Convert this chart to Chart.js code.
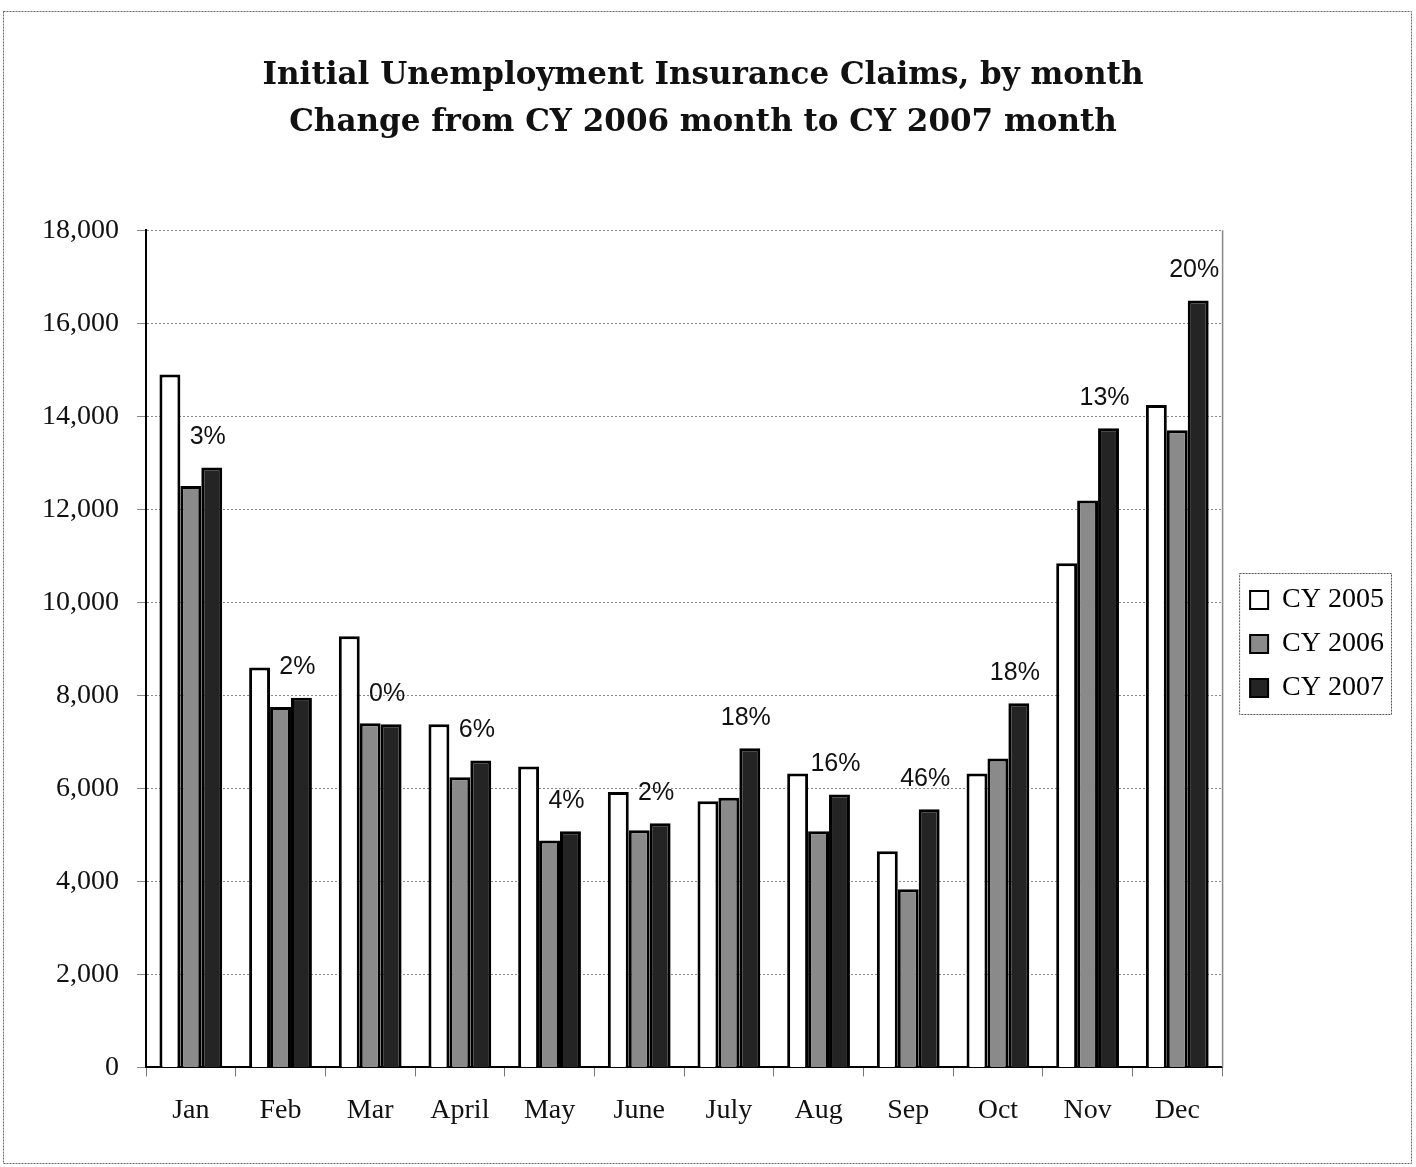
<!DOCTYPE html>
<html>
<head>
<meta charset="utf-8">
<script src="https://cdn.jsdelivr.net/npm/chart.js@4"></script>
<style>
  html, body { margin: 0; padding: 0; background: #fff; }
  canvas { display: block; }
</style>
</head>
<body>
<canvas id="barChart" width="1416" height="1167"></canvas>
<script>
// chart data
var months = ["Jan", "Feb", "Mar", "April", "May", "June", "July", "Aug", "Sep", "Oct", "Nov", "Dec"];
var cy2005 = [14900, 8600, 9270, 7380, 6470, 5920, 5720, 6320, 4650, 6320, 10840, 14240];
var cy2006 = [12500, 7750, 7400, 6240, 4880, 5100, 5800, 5080, 3830, 6640, 12190, 13700];
var cy2007 = [12900, 7950, 7380, 6600, 5080, 5250, 6860, 5870, 5550, 7830, 13740, 16490];
var pctChange = ["3%", "2%", "0%", "6%", "4%", "2%", "18%", "16%", "46%", "18%", "13%", "20%"];
var yTicks = [0, 2000, 4000, 6000, 8000, 10000, 12000, 14000, 16000, 18000];

var serif = "'Liberation Serif', 'DejaVu Serif', serif";

// percent labels over the CY 2007 bars, frame and legend box
var decorations = {
    id: 'decorations',
    afterLayout: function (chart) {
        // nudge the legend right and down, as in the original
        chart.legend.left += 12;
        chart.legend.right += 12;
        chart.legend.top += 72;
        chart.legend.bottom += 72;
    },
    afterDatasetsDraw: function (chart) {
        var ctx = chart.ctx;
        var meta = chart.getDatasetMeta(2);
        ctx.save();
        ctx.fillStyle = '#111';
        ctx.font = "25px 'Liberation Sans', Arial, sans-serif";
        ctx.textAlign = 'center';
        ctx.textBaseline = 'bottom';
        meta.data.forEach(function (bar, i) {
            ctx.fillText(pctChange[i], bar.x - 4, bar.y - 18);
        });
        ctx.restore();
    },
    afterDraw: function (chart) {
        var ctx = chart.ctx;
        var a = chart.chartArea;
        ctx.save();
        // thin right edge of the plot
        ctx.strokeStyle = '#888';
        ctx.lineWidth = 1.5;
        ctx.beginPath();
        ctx.moveTo(a.right + 0.5, a.top);
        ctx.lineTo(a.right + 0.5, a.bottom);
        ctx.stroke();

        // legend frame
        var boxes = chart.legend.legendHitBoxes;
        if (boxes && boxes.length) {
            var l = Math.min.apply(null, boxes.map(function (b) { return b.left; }));
            var r = Math.max.apply(null, boxes.map(function (b) { return b.left + b.width; }));
            var t = Math.min.apply(null, boxes.map(function (b) { return b.top; }));
            var btm = Math.max.apply(null, boxes.map(function (b) { return b.top + b.height; }));
            ctx.lineWidth = 1;
            ctx.strokeStyle = '#555';
            ctx.setLineDash([2, 1]);
            ctx.strokeRect(l - 10.5, t - 12.5, r - l + 18, btm - t + 25);
        }

        // outer frame of the whole chart
        ctx.setLineDash([2, 1]);
        ctx.strokeStyle = '#666';
        ctx.strokeRect(3.5, 11.5, chart.width - 8, chart.height - 15);
        ctx.restore();
    }
};

var ctx = document.getElementById("barChart");
var barChart = new Chart(ctx, {
    type: 'bar',
    data: {
        labels: months,
        datasets: [{
            label: "CY 2005",
            backgroundColor: "#ffffff",
            borderColor: "#000",
            borderWidth: 3,
            data: cy2005
        }, {
            label: "CY 2006",
            backgroundColor: "#8a8a8a",
            borderColor: "#000",
            borderWidth: 3,
            data: cy2006
        }, {
            label: "CY 2007",
            backgroundColor: "#242424",
            borderColor: "#000",
            borderWidth: 3,
            data: cy2007
        }]
    },
    options: {
        responsive: false,
        animation: false,
        devicePixelRatio: 1,
        categoryPercentage: 0.7,
        barPercentage: 1.0,
        layout: {
            padding: { left: 24, right: 34, top: 0, bottom: 23 }
        },
        plugins: {
            title: {
                display: true,
                text: ["Initial Unemployment Insurance Claims, by month",
                       "Change from CY 2006 month to CY 2007 month"],
                color: '#111',
                font: { family: "'DejaVu Serif', serif", size: 31, weight: 'bold', lineHeight: 1.52 },
                padding: { top: 52, bottom: 84 }
            },
            legend: {
                position: 'right',
                labels: {
                    color: '#111',
                    font: { family: serif, size: 28 },
                    boxWidth: 18,
                    boxHeight: 18,
                    padding: 16,
                    generateLabels: function (chart) {
                        return chart.data.datasets.map(function (ds, i) {
                            return {
                                text: ds.label,
                                fillStyle: ds.backgroundColor,
                                strokeStyle: '#000',
                                lineWidth: 2,
                                datasetIndex: i
                            };
                        });
                    }
                }
            },
            tooltip: { enabled: false }
        },
        scales: {
            x: {
                grid: {
                    offset: true,
                    drawOnChartArea: false,
                    color: '#777',
                    tickLength: 9
                },
                border: { color: '#000', width: 2 },
                ticks: {
                    color: '#111',
                    padding: 17,
                    font: { family: serif, size: 28 }
                }
            },
            y: {
                min: 0,
                max: 18000,
                afterBuildTicks: function (axis) {
                    axis.ticks = yTicks.map(function (v) { return { value: v }; });
                },
                grid: {
                    color: '#888',
                    lineWidth: 1,
                    tickLength: 9
                },
                border: { color: '#000', width: 2, dash: [2, 2] },
                ticks: {
                    color: '#111',
                    padding: 18,
                    font: { family: serif, size: 28 },
                    callback: function (v) { return Number(v).toLocaleString('en-US'); }
                }
            }
        }
    },
    plugins: [decorations]
});
</script>
</body>
</html>
